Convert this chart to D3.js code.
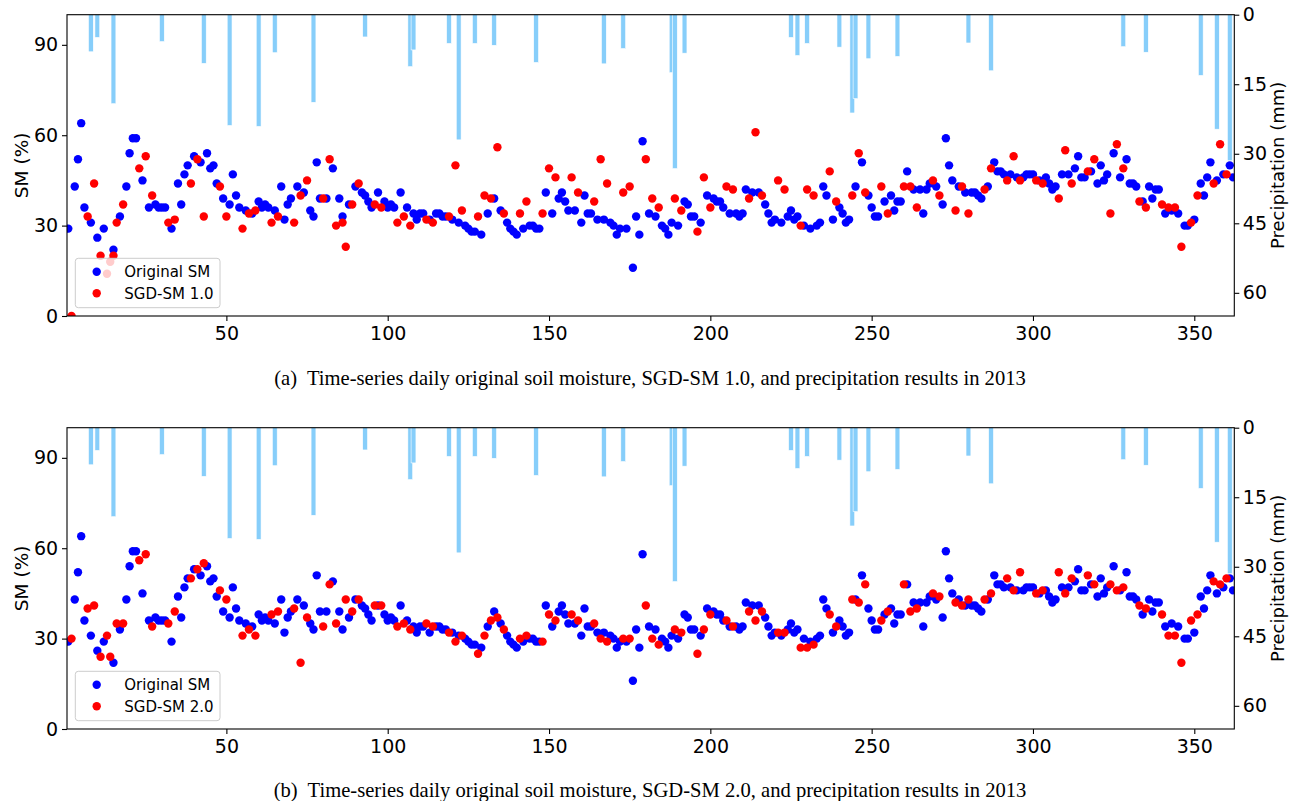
<!DOCTYPE html>
<html>
<head>
<meta charset="utf-8">
<script src="https://cdn.jsdelivr.net/npm/d3@7"></script>
<style>
body { margin: 0; background: #fff; }
text { font-family: "DejaVu Sans", sans-serif; }
.caption { font-family: "Liberation Serif", "Times New Roman", serif; font-size: 20.6px; white-space: pre; }
</style>
</head>
<body>
<svg width="1296" height="801"></svg>
<script>
// original soil moisture (day of year, %)
var smDays = [1,3,4,5,6,8,10,12,15,17,19,20,21,22,24,26,28,29,30,31,33,35,36,37,38,40,42,44,45,46,47,49,51,52,53,54,56,58,60,61,62,63,65,67,68,69,70,72,74,76,77,78,79,81,83,85,86,88,90,
  92,93,94,95,97,99,100,101,102,104,106,108,109,110,111,113,115,116,117,118,120,122,124,125,126,127,129,131,133,135,137,138,139,140,142,144,145,146,147,149,151,153,154,155,156,158,160,161,162,163,165,167,169,170,171,172,174,176,177,178,179,181,183,185,186,187,188,190,
  192,193,194,195,197,199,201,202,203,204,206,208,209,210,211,213,215,217,218,219,220,222,224,225,226,227,229,231,233,234,235,236,238,240,241,242,243,245,247,249,250,251,252,254,256,257,258,259,261,263,265,266,267,268,270,272,273,274,275,277,279,281,282,283,284,286,
  288,289,290,291,293,295,297,298,299,300,302,304,305,306,307,309,311,313,314,315,316,318,320,321,322,323,325,327,329,330,331,332,334,336,337,338,339,341,343,345,347,348,350,352,353,354,355,357,359,361,362];
var smVals = [29,43,52,64,36,31,26,29,22,33,43,54,59,59,45,36,37,36,36,36,29,44,37,47,50,53,51,54,49,50,44,39,37,47,40,36,35,34,38,36,37,36,35,43,32,37,39,43,41,35,33,51,39,39,49,39,33,37,43,
  41,40,38,36,41,38,36,37,36,41,36,34,32,34,34,32,34,34,33,33,32,31,30,29,28,28,27,34,39,35,31,29,28,27,29,30,30,29,29,41,34,39,41,38,35,35,31,40,34,34,32,32,31,30,27,29,29,16,33,27,58,34,33,30,29,27,31,30,
  38,37,33,33,31,40,39,38,38,36,34,34,33,34,42,41,41,37,34,31,32,31,33,35,32,33,30,29,30,31,43,40,32,36,34,31,32,43,51,40,36,33,33,38,40,35,38,38,48,42,42,34,42,44,43,37,59,50,45,43,41,41,41,40,39,43,
  51,48,48,47,47,46,46,47,47,47,45,46,44,42,43,47,47,49,53,46,46,48,44,50,45,47,54,46,52,44,44,43,38,43,39,42,42,34,35,34,30,30,32,44,40,46,51,45,47,50,46];

// SGD-SM 1.0
var sgd1Days = [2,7,9,11,13,14,15,16,18,23,25,27,32,34,39,41,43,48,50,55,57,59,64,66,71,73,75,80,82,84,86,87,89,91,
  96,98,103,105,107,112,114,119,121,123,128,130,132,134,136,141,143,148,150,152,157,159,164,166,168,173,175,180,182,184,189,
  191,196,198,200,205,207,212,214,216,221,223,228,230,232,237,239,244,246,248,253,255,260,262,264,269,271,276,278,280,285,
  287,292,294,296,301,303,308,310,312,317,319,324,326,328,333,335,340,342,344,346,349,351,356,358,360];
var sgd1Vals = [0,33,44,20,14,18,20,31,37,49,53,40,31,32,44,52,33,43,33,29,34,35,31,33,31,40,45,39,52,30,31,23,37,44,
  37,36,31,33,30,32,31,33,50,35,33,40,39,56,34,34,38,34,49,46,46,41,38,52,44,41,43,52,39,36,39,
  35,28,46,36,43,42,39,61,40,45,42,30,42,40,48,38,40,54,41,43,34,43,43,36,45,40,35,43,34,42,
  49,45,53,45,45,44,39,55,44,48,52,34,57,49,38,36,37,36,36,23,31,40,44,57,47];

// SGD-SM 2.0
var sgd2Days = [2,7,9,11,13,14,16,18,23,25,27,32,34,39,41,43,48,50,55,57,59,64,66,71,73,75,80,82,84,87,89,91,
  96,98,103,105,107,112,114,119,121,123,128,130,132,134,136,141,143,148,150,152,157,159,164,166,168,173,175,180,182,184,189,
  191,196,198,200,205,207,212,214,216,221,223,228,230,232,237,239,244,246,248,253,255,260,262,264,269,271,276,278,280,285,
  287,292,294,296,301,303,308,310,312,317,319,324,326,328,333,335,340,342,344,346,349,351,356,358,360];
var sgd2Vals = [30,40,41,24,31,24,35,35,56,58,34,35,39,50,53,55,46,43,31,33,31,38,39,40,22,37,34,48,35,43,39,43,
  41,41,34,35,33,35,34,32,29,31,25,31,36,37,33,30,31,29,38,36,38,36,35,30,29,30,30,41,30,28,33,
  32,25,33,38,36,34,39,36,39,32,32,27,27,28,38,34,43,42,48,36,39,48,39,40,45,44,42,41,43,43,
  45,50,46,52,45,46,52,45,50,51,48,48,46,47,41,40,38,31,31,22,36,38,49,48,50];

// precipitation (mm)
var rainDays = [8,10,15,30,43,51,60,65,77,93,107,108,119,122,127,133,146,167,173,188,189,192,225,227,230,240,244,245,249,258,280,287,328,335,352,357,361];
var rainMm = [8.0,4.9,19.2,5.8,10.5,23.9,24.1,8.2,18.9,4.8,11.2,7.6,6.2,27.0,6.2,6.6,10.3,10.6,7.3,12.5,33.2,8.3,4.9,8.8,6.2,7.0,21.2,18.1,9.5,9.0,6.1,12.1,6.9,8.1,13.1,24.7,31.5];

var xTicks = [50,100,150,200,250,300,350],
    smTicks = [0,30,60,90],
    rainTicks = [0,15,30,45,60];

var svg = d3.select("svg"),
    left = 67, right = 1234.3, plotH = 301.3;

var x = d3.scaleLinear().domain([0.6, 362.4]).range([left, right]);
var barW = x(1.5) - x(0);

function zip(days, vals) {
    return days.map((d, i) => ({ day: d, v: vals[i] }));
}

function drawPanel(id, top, sgdDays, sgdVals, label, caption, capY) {
    var y = d3.scaleLinear().domain([0, 100]).range([top + plotH, top]);
    var yr = d3.scaleLinear().domain([0, 65]).range([top, top + plotH]);
    var g = svg.append("g");

    g.append("clipPath").attr("id", "clip" + id)
        .append("rect")
        .attr("x", left).attr("y", top)
        .attr("width", right - left).attr("height", plotH);

    var plot = g.append("g").attr("clip-path", "url(#clip" + id + ")");

    plot.selectAll(".sm").data(zip(smDays, smVals))
        .enter().append("circle")
        .attr("cx", d => x(d.day))
        .attr("cy", d => y(d.v))
        .attr("r", 4.2)
        .attr("fill", "#0000ff");

    plot.selectAll(".sgd").data(zip(sgdDays, sgdVals))
        .enter().append("circle")
        .attr("cx", d => x(d.day))
        .attr("cy", d => y(d.v))
        .attr("r", 4.2)
        .attr("fill", "#ff0000");

    // legend
    var lg = g.append("g");
    lg.append("rect")
        .attr("x", 75.3).attr("y", top + 243.6)
        .attr("width", 144.7).attr("height", 49.4)
        .attr("rx", 3)
        .attr("fill", "#fff").attr("fill-opacity", 0.8)
        .attr("stroke", "#cccccc").attr("stroke-width", 1);
    [["Original SM", "#0000ff"], [label, "#ff0000"]].forEach((it, i) => {
        var cy = top + 257 + i * 21.6;
        lg.append("circle").attr("cx", 96.7).attr("cy", cy).attr("r", 4.2).attr("fill", it[1]);
        lg.append("text").attr("x", 124.3).attr("y", cy + 5.3)
            .attr("font-size", "15px").text(it[0]);
    });

    // precipitation bars hang from the top
    plot.selectAll(".rain").data(zip(rainDays, rainMm))
        .enter().append("rect")
        .attr("x", d => x(d.day) - barW / 2)
        .attr("y", top)
        .attr("width", barW)
        .attr("height", d => yr(d.v) - top)
        .attr("fill", "#87cefa")
        .attr("stroke", "#ffffff")
        .attr("stroke-width", 0.6);

    // axes
    var ax = g.append("g").attr("transform", "translate(0," + (top + plotH) + ")")
        .call(d3.axisBottom(x).tickValues(xTicks).tickSize(5).tickSizeOuter(0).tickPadding(5.5));
    var ay = g.append("g").attr("transform", "translate(" + left + ",0)")
        .call(d3.axisLeft(y).tickValues(smTicks).tickSize(5).tickSizeOuter(0).tickPadding(3.8));
    var ayr = g.append("g").attr("transform", "translate(" + right + ",0)")
        .call(d3.axisRight(yr).tickValues(rainTicks).tickSize(5).tickSizeOuter(0).tickPadding(3.5));
    [ax, ay, ayr].forEach(a => {
        a.select(".domain").remove();
        a.selectAll("text").attr("font-size", "19px").attr("fill", "#000")
            .attr("font-family", "DejaVu Sans, sans-serif");
        a.selectAll("line").attr("stroke", "#000").attr("stroke-width", 1.1);
    });

    g.append("rect")
        .attr("x", left).attr("y", top)
        .attr("width", right - left).attr("height", plotH)
        .attr("fill", "none").attr("stroke", "#000").attr("stroke-width", 1.1);

    g.append("text")
        .attr("transform", "translate(27.6," + (top + plotH / 2) + ") rotate(-90)")
        .attr("text-anchor", "middle").attr("font-size", "18.5px")
        .text("SM (%)");
    g.append("text")
        .attr("transform", "translate(1284," + (top + plotH / 2) + ") rotate(-90)")
        .attr("text-anchor", "middle").attr("font-size", "18px")
        .text("Precipitation (mm)");

    svg.append("text").attr("class", "caption")
        .attr("x", 650).attr("y", capY)
        .attr("text-anchor", "middle")
        .text(caption);
}

drawPanel("a", 14.7, sgd1Days, sgd1Vals, "SGD-SM 1.0",
    "(a)  Time-series daily original soil moisture, SGD-SM 1.0, and precipitation results in 2013", 385.3);
drawPanel("b", 427.7, sgd2Days, sgd2Vals, "SGD-SM 2.0",
    "(b)  Time-series daily original soil moisture, SGD-SM 2.0, and precipitation results in 2013", 797);
</script>
</body>
</html>
